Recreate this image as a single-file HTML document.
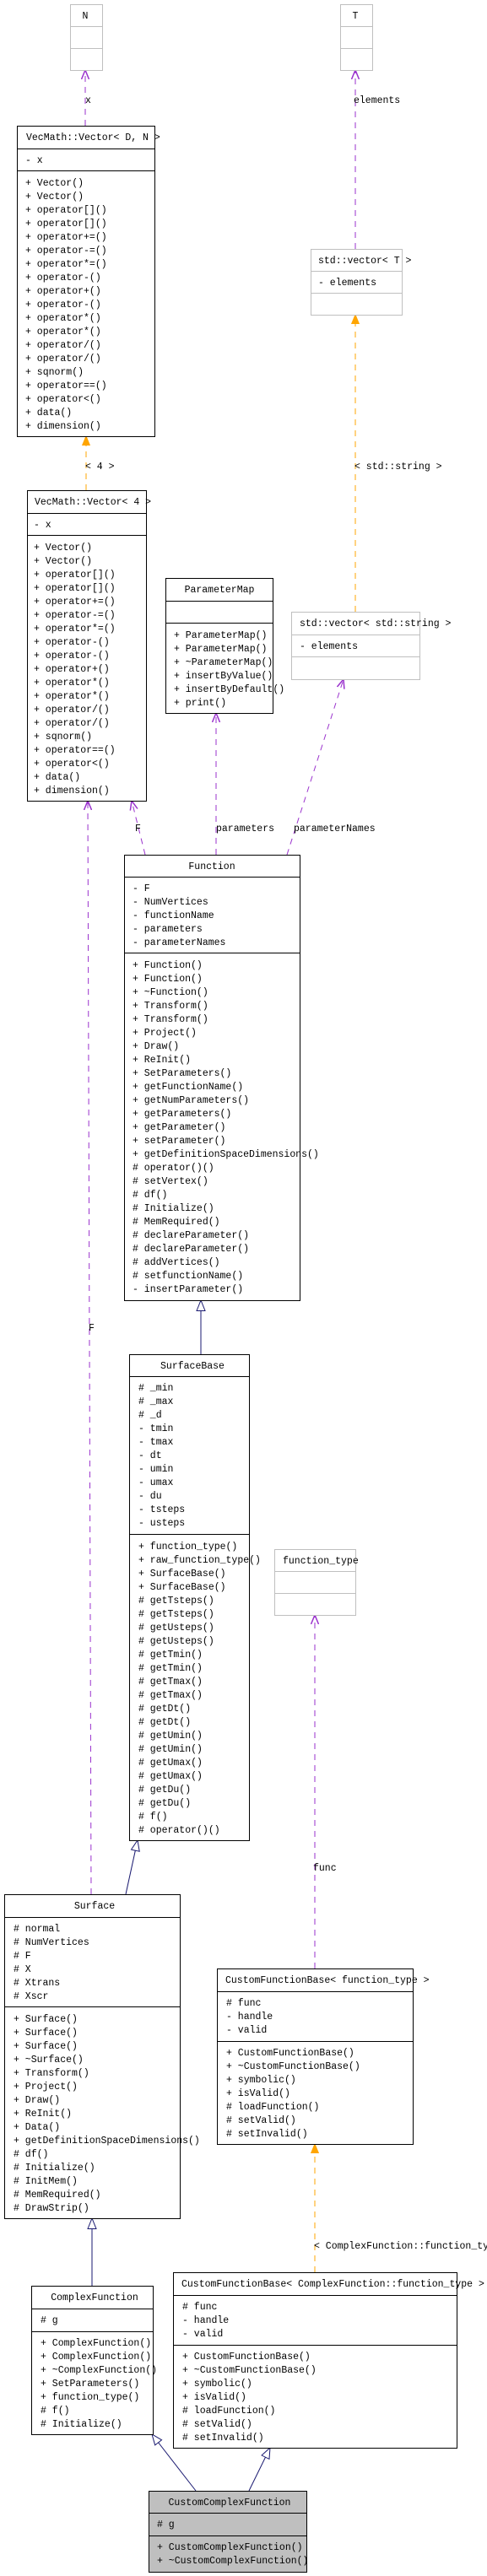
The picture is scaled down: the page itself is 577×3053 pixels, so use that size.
<!DOCTYPE html>
<html><head><meta charset="utf-8"><style>
html,body{margin:0;padding:0;background:#fff}
svg{display:block}
text{font-family:"Liberation Mono",monospace;font-size:11.5px;fill:#000}
.c{text-anchor:middle}
</style></head><body>
<svg width="577" height="3053" viewBox="0 0 577 3053" xmlns="http://www.w3.org/2000/svg">
<defs>
<marker id="pv" markerUnits="userSpaceOnUse" markerWidth="12" markerHeight="10" refX="11" refY="5" orient="auto"><path d="M0,0.5 L11,5 L0,9.5" fill="none" stroke="#9a32cd" stroke-width="1.5"/></marker>
<marker id="or" markerUnits="userSpaceOnUse" markerWidth="12" markerHeight="10" refX="11" refY="5" orient="auto"><path d="M0,0.5 L11,5 L0,9.5 z" fill="#ffa500" stroke="#ffa500"/></marker>
<marker id="nv" markerUnits="userSpaceOnUse" markerWidth="14" markerHeight="12" refX="13" refY="6" orient="auto"><path d="M0.5,1 L13,6 L0.5,11 z" fill="#fff" stroke="#191970" stroke-width="1"/></marker>
</defs>

<!-- connectors -->
<g fill="none" stroke-width="1">
<line x1="101" y1="149" x2="101" y2="83" stroke="#9a32cd" stroke-dasharray="7,6" marker-end="url(#pv)"/>
<line x1="421" y1="295" x2="421" y2="83" stroke="#9a32cd" stroke-dasharray="7,6" marker-end="url(#pv)"/>
<line x1="102" y1="581" x2="102" y2="517" stroke="#ffa500" stroke-dasharray="7,6" marker-end="url(#or)"/>
<line x1="421" y1="725" x2="421" y2="373" stroke="#ffa500" stroke-dasharray="7,6" marker-end="url(#or)"/>
<line x1="108" y1="2245" x2="104" y2="949" stroke="#9a32cd" stroke-dasharray="7,6" marker-end="url(#pv)"/>
<line x1="172" y1="1013" x2="156" y2="949" stroke="#9a32cd" stroke-dasharray="7,6" marker-end="url(#pv)"/>
<line x1="256" y1="1013" x2="256" y2="845" stroke="#9a32cd" stroke-dasharray="7,6" marker-end="url(#pv)"/>
<line x1="340" y1="1013" x2="407" y2="805" stroke="#9a32cd" stroke-dasharray="7,6" marker-end="url(#pv)"/>
<line x1="238" y1="1606" x2="238" y2="1541" stroke="#191970" marker-end="url(#nv)"/>
<line x1="149" y1="2245" x2="163" y2="2181" stroke="#191970" marker-end="url(#nv)"/>
<line x1="373" y1="2333" x2="373" y2="1914" stroke="#9a32cd" stroke-dasharray="7,6" marker-end="url(#pv)"/>
<line x1="373" y1="2693" x2="373" y2="2541" stroke="#ffa500" stroke-dasharray="7,6" marker-end="url(#or)"/>
<line x1="109" y1="2709" x2="109" y2="2629" stroke="#191970" marker-end="url(#nv)"/>
<line x1="232" y1="2952" x2="180" y2="2885" stroke="#191970" marker-end="url(#nv)"/>
<line x1="295" y1="2952" x2="320" y2="2901" stroke="#191970" marker-end="url(#nv)"/>
</g>
<text x="101" y="122">x</text>
<text x="419" y="122">elements</text>
<text x="101" y="556">&lt; 4 &gt;</text>
<text x="420" y="556">&lt; std::string &gt;</text>
<text x="160" y="985">F</text>
<text x="256" y="985">parameters</text>
<text x="348" y="985">parameterNames</text>
<text x="105" y="1577">F</text>
<text x="371" y="2217">func</text>
<text x="372" y="2665">&lt; ComplexFunction::function_type &gt;</text>

<!-- boxes -->
<g fill="#fff" stroke="#bfbfbf" stroke-width="1">
<rect x="83.5" y="5.5" width="38" height="78"/><line x1="83" y1="31.5" x2="122" y2="31.5"/><line x1="83" y1="57.5" x2="122" y2="57.5"/>
<rect x="403.5" y="5.5" width="38" height="78"/><line x1="403" y1="31.5" x2="442" y2="31.5"/><line x1="403" y1="57.5" x2="442" y2="57.5"/>
<rect x="368.5" y="295.5" width="108" height="78"/><line x1="368" y1="321.5" x2="477" y2="321.5"/><line x1="368" y1="347.5" x2="477" y2="347.5"/>
<rect x="345.5" y="725.5" width="152" height="80"/><line x1="345" y1="752.5" x2="498" y2="752.5"/><line x1="345" y1="778.5" x2="498" y2="778.5"/>
<rect x="325.5" y="1836.5" width="96" height="78"/><line x1="325" y1="1862.5" x2="422" y2="1862.5"/><line x1="325" y1="1888.5" x2="422" y2="1888.5"/>
</g>
<g fill="#fff" stroke="#000" stroke-width="1">
<rect x="20.5" y="149.5" width="163" height="368"/><line x1="20" y1="176.5" x2="184" y2="176.5"/><line x1="20" y1="202.5" x2="184" y2="202.5"/>
<rect x="32.5" y="581.5" width="141" height="368"/><line x1="32" y1="608.5" x2="174" y2="608.5"/><line x1="32" y1="634.5" x2="174" y2="634.5"/>
<rect x="196.5" y="685.5" width="127" height="160"/><line x1="196" y1="712.5" x2="324" y2="712.5"/><line x1="196" y1="738.5" x2="324" y2="738.5"/>
<rect x="147.5" y="1013.5" width="208" height="528"/><line x1="147" y1="1039.5" x2="356" y2="1039.5"/><line x1="147" y1="1129.5" x2="356" y2="1129.5"/>
<rect x="153.5" y="1605.5" width="142" height="576"/><line x1="153" y1="1631.5" x2="296" y2="1631.5"/><line x1="153" y1="1818.5" x2="296" y2="1818.5"/>
<rect x="5.5" y="2245.5" width="208" height="384"/><line x1="5" y1="2272.5" x2="214" y2="2272.5"/><line x1="5" y1="2378.5" x2="214" y2="2378.5"/>
<rect x="257.5" y="2333.5" width="232" height="208"/><line x1="257" y1="2360.5" x2="490" y2="2360.5"/><line x1="257" y1="2419.5" x2="490" y2="2419.5"/>
<rect x="37.5" y="2709.5" width="144" height="176"/><line x1="37" y1="2736.5" x2="182" y2="2736.5"/><line x1="37" y1="2763.5" x2="182" y2="2763.5"/>
<rect x="205.5" y="2693.5" width="336" height="208"/><line x1="205" y1="2720.5" x2="542" y2="2720.5"/><line x1="205" y1="2779.5" x2="542" y2="2779.5"/>
<rect x="176.5" y="2952.5" width="187" height="96" fill="#bfbfbf"/><line x1="176" y1="2978.5" x2="364" y2="2978.5"/><line x1="176" y1="3005.5" x2="364" y2="3005.5"/>
</g>

<!-- N, T -->
<text class="c" x="101" y="22">N</text>
<text class="c" x="421" y="22">T</text>

<!-- Vec<D,N> -->
<text x="31" y="166">VecMath::Vector&lt; D, N &gt;</text>
<text x="30" y="193">- x</text>
<g>
<text x="30" y="220">+ Vector()</text><text x="30" y="236">+ Vector()</text><text x="30" y="252">+ operator[]()</text><text x="30" y="268">+ operator[]()</text><text x="30" y="284">+ operator+=()</text><text x="30" y="300">+ operator-=()</text><text x="30" y="316">+ operator*=()</text><text x="30" y="332">+ operator-()</text><text x="30" y="348">+ operator+()</text><text x="30" y="364">+ operator-()</text><text x="30" y="380">+ operator*()</text><text x="30" y="396">+ operator*()</text><text x="30" y="412">+ operator/()</text><text x="30" y="428">+ operator/()</text><text x="30" y="444">+ sqnorm()</text><text x="30" y="460">+ operator==()</text><text x="30" y="476">+ operator&lt;()</text><text x="30" y="492">+ data()</text><text x="30" y="508">+ dimension()</text>
</g>

<!-- vector<T> -->
<text x="377" y="312">std::vector&lt; T &gt;</text>
<text x="377" y="338">- elements</text>

<!-- Vec<4> -->
<text x="41" y="598">VecMath::Vector&lt; 4 &gt;</text>
<text x="40" y="625">- x</text>
<g>
<text x="40" y="652">+ Vector()</text><text x="40" y="668">+ Vector()</text><text x="40" y="684">+ operator[]()</text><text x="40" y="700">+ operator[]()</text><text x="40" y="716">+ operator+=()</text><text x="40" y="732">+ operator-=()</text><text x="40" y="748">+ operator*=()</text><text x="40" y="764">+ operator-()</text><text x="40" y="780">+ operator-()</text><text x="40" y="796">+ operator+()</text><text x="40" y="812">+ operator*()</text><text x="40" y="828">+ operator*()</text><text x="40" y="844">+ operator/()</text><text x="40" y="860">+ operator/()</text><text x="40" y="876">+ sqnorm()</text><text x="40" y="892">+ operator==()</text><text x="40" y="908">+ operator&lt;()</text><text x="40" y="924">+ data()</text><text x="40" y="940">+ dimension()</text>
</g>

<!-- ParameterMap -->
<text class="c" x="260" y="702">ParameterMap</text>
<text x="206" y="756">+ ParameterMap()</text><text x="206" y="772">+ ParameterMap()</text><text x="206" y="788">+ ~ParameterMap()</text><text x="206" y="804">+ insertByValue()</text><text x="206" y="820">+ insertByDefault()</text><text x="206" y="836">+ print()</text>

<!-- vector<string> -->
<text x="355" y="742">std::vector&lt; std::string &gt;</text>
<text x="355" y="769">- elements</text>

<!-- Function -->
<text class="c" x="251" y="1030">Function</text>
<text x="157" y="1056">- F</text><text x="157" y="1072">- NumVertices</text><text x="157" y="1088">- functionName</text><text x="157" y="1104">- parameters</text><text x="157" y="1120">- parameterNames</text>
<g>
<text x="157" y="1147">+ Function()</text><text x="157" y="1163">+ Function()</text><text x="157" y="1179">+ ~Function()</text><text x="157" y="1195">+ Transform()</text><text x="157" y="1211">+ Transform()</text><text x="157" y="1227">+ Project()</text><text x="157" y="1243">+ Draw()</text><text x="157" y="1259">+ ReInit()</text><text x="157" y="1275">+ SetParameters()</text><text x="157" y="1291">+ getFunctionName()</text><text x="157" y="1307">+ getNumParameters()</text><text x="157" y="1323">+ getParameters()</text><text x="157" y="1339">+ getParameter()</text><text x="157" y="1355">+ setParameter()</text><text x="157" y="1371">+ getDefinitionSpaceDimensions()</text><text x="157" y="1387"># operator()()</text><text x="157" y="1403"># setVertex()</text><text x="157" y="1419"># df()</text><text x="157" y="1435"># Initialize()</text><text x="157" y="1451"># MemRequired()</text><text x="157" y="1467"># declareParameter()</text><text x="157" y="1483"># declareParameter()</text><text x="157" y="1499"># addVertices()</text><text x="157" y="1515"># setfunctionName()</text><text x="157" y="1531">- insertParameter()</text>
</g>

<!-- SurfaceBase -->
<text class="c" x="228" y="1622">SurfaceBase</text>
<g>
<text x="164" y="1648"># _min</text><text x="164" y="1664"># _max</text><text x="164" y="1680"># _d</text><text x="164" y="1696">- tmin</text><text x="164" y="1712">- tmax</text><text x="164" y="1728">- dt</text><text x="164" y="1744">- umin</text><text x="164" y="1760">- umax</text><text x="164" y="1776">- du</text><text x="164" y="1792">- tsteps</text><text x="164" y="1808">- usteps</text>
<text x="164" y="1836">+ function_type()</text><text x="164" y="1852">+ raw_function_type()</text><text x="164" y="1868">+ SurfaceBase()</text><text x="164" y="1884">+ SurfaceBase()</text><text x="164" y="1900"># getTsteps()</text><text x="164" y="1916"># getTsteps()</text><text x="164" y="1932"># getUsteps()</text><text x="164" y="1948"># getUsteps()</text><text x="164" y="1964"># getTmin()</text><text x="164" y="1980"># getTmin()</text><text x="164" y="1996"># getTmax()</text><text x="164" y="2012"># getTmax()</text><text x="164" y="2028"># getDt()</text><text x="164" y="2044"># getDt()</text><text x="164" y="2060"># getUmin()</text><text x="164" y="2076"># getUmin()</text><text x="164" y="2092"># getUmax()</text><text x="164" y="2108"># getUmax()</text><text x="164" y="2124"># getDu()</text><text x="164" y="2140"># getDu()</text><text x="164" y="2156"># f()</text><text x="164" y="2172"># operator()()</text>
</g>

<!-- function_type -->
<text x="335" y="1853">function_type</text>

<!-- Surface -->
<text class="c" x="112" y="2262">Surface</text>
<g>
<text x="16" y="2289"># normal</text><text x="16" y="2305"># NumVertices</text><text x="16" y="2321"># F</text><text x="16" y="2337"># X</text><text x="16" y="2353"># Xtrans</text><text x="16" y="2369"># Xscr</text>
<text x="16" y="2396">+ Surface()</text><text x="16" y="2412">+ Surface()</text><text x="16" y="2428">+ Surface()</text><text x="16" y="2444">+ ~Surface()</text><text x="16" y="2460">+ Transform()</text><text x="16" y="2476">+ Project()</text><text x="16" y="2492">+ Draw()</text><text x="16" y="2508">+ ReInit()</text><text x="16" y="2524">+ Data()</text><text x="16" y="2540">+ getDefinitionSpaceDimensions()</text><text x="16" y="2556"># df()</text><text x="16" y="2572"># Initialize()</text><text x="16" y="2588"># InitMem()</text><text x="16" y="2604"># MemRequired()</text><text x="16" y="2620"># DrawStrip()</text>
</g>

<!-- CFB<function_type> -->
<text x="267" y="2350">CustomFunctionBase&lt; function_type &gt;</text>
<g>
<text x="268" y="2377"># func</text><text x="268" y="2393">- handle</text><text x="268" y="2409">- valid</text>
<text x="268" y="2436">+ CustomFunctionBase()</text><text x="268" y="2452">+ ~CustomFunctionBase()</text><text x="268" y="2468">+ symbolic()</text><text x="268" y="2484">+ isValid()</text><text x="268" y="2500"># loadFunction()</text><text x="268" y="2516"># setValid()</text><text x="268" y="2532"># setInvalid()</text>
</g>

<!-- ComplexFunction -->
<text class="c" x="112" y="2726">ComplexFunction</text>
<text x="48" y="2753"># g</text>
<g>
<text x="48" y="2780">+ ComplexFunction()</text><text x="48" y="2796">+ ComplexFunction()</text><text x="48" y="2812">+ ~ComplexFunction()</text><text x="48" y="2828">+ SetParameters()</text><text x="48" y="2844">+ function_type()</text><text x="48" y="2860"># f()</text><text x="48" y="2876"># Initialize()</text>
</g>

<!-- CFB<Complex> -->
<text x="215" y="2710">CustomFunctionBase&lt; ComplexFunction::function_type &gt;</text>
<g>
<text x="216" y="2737"># func</text><text x="216" y="2753">- handle</text><text x="216" y="2769">- valid</text>
<text x="216" y="2796">+ CustomFunctionBase()</text><text x="216" y="2812">+ ~CustomFunctionBase()</text><text x="216" y="2828">+ symbolic()</text><text x="216" y="2844">+ isValid()</text><text x="216" y="2860"># loadFunction()</text><text x="216" y="2876"># setValid()</text><text x="216" y="2892"># setInvalid()</text>
</g>

<!-- CustomComplexFunction -->
<text class="c" x="272" y="2969">CustomComplexFunction</text>
<text x="186" y="2995"># g</text>
<text x="186" y="3022">+ CustomComplexFunction()</text>
<text x="186" y="3038">+ ~CustomComplexFunction()</text>
</svg>
</body></html>
